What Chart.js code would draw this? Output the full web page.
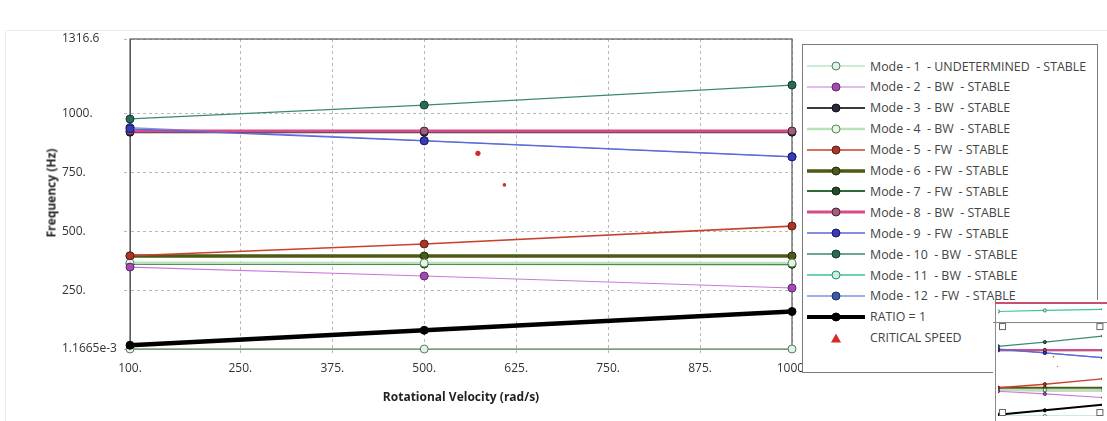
<!DOCTYPE html>
<html><head><meta charset="utf-8">
<script src="https://cdn.jsdelivr.net/npm/chart.js@4.4.1/dist/chart.umd.min.js"></script>
<style>
html,body{margin:0;padding:0;background:#fff;}
body{width:1107px;height:421px;position:relative;overflow:hidden;font-family:"Open Sans",sans-serif;}
#frame{position:absolute;left:5px;top:30px;width:1200px;height:500px;border:1px solid #ededed;}
#main{position:absolute;left:0;top:0;}
#ytitle{position:absolute;left:51px;top:193px;transform:translate(-50%,-50%) rotate(-90deg);font-weight:bold;font-size:12px;color:#222;white-space:nowrap;}
#xtitle{position:absolute;left:461px;top:396px;transform:translate(-50%,-50%);font-weight:bold;font-size:12px;color:#222;white-space:nowrap;}
#legend{position:absolute;left:802px;top:44px;width:294px;height:327px;border:1px solid #7a7a7a;background:#fff;}
.row{position:absolute;left:4px;height:16px;display:flex;align-items:center;font-size:12.4px;color:#444;white-space:pre;}
.row svg{margin-right:5px;}
#insetWrap{position:absolute;left:993px;top:300px;width:114px;height:121px;background:#fff;}
#inset{position:absolute;left:0;top:0;}
</style>
</head><body>
<div id="frame"></div>
<canvas id="main" width="1107" height="421"></canvas>
<div id="ytitle">Frequency (Hz)</div>
<div id="xtitle">Rotational Velocity (rad/s)</div>
<div id="legend"></div>
<div id="insetWrap"><canvas id="inset" width="114" height="121"></canvas></div>
<script>
// ---------- data ----------
const speeds = [100, 500, 1000];
const mode1  = [0, 0, 0];
const mode2  = [348, 310, 259];
const mode3  = [921, 921, 921];
const mode4  = [366, 365, 365];
const mode5  = [396, 446, 522];
const mode6  = [395, 395, 395];
const mode7  = [362, 361, 360];
const mode8  = [926, 926, 926];
const mode9  = [935, 884, 816];
const mode10 = [977, 1036, 1121];
const mode11 = [1465, 1480, 1495];
const mode12 = [940, 885, 817];
const ratio1 = [15.9, 79.6, 159.2];
const critSpeedX = [573, 609];
const critSpeedY = [831, 697];

const seriesNames = [
  'Mode - 1  - UNDETERMINED  - STABLE','Mode - 2  - BW  - STABLE','Mode - 3  - BW  - STABLE',
  'Mode - 4  - BW  - STABLE','Mode - 5  - FW  - STABLE','Mode - 6  - FW  - STABLE',
  'Mode - 7  - FW  - STABLE','Mode - 8  - BW  - STABLE','Mode - 9  - FW  - STABLE',
  'Mode - 10  - BW  - STABLE','Mode - 11  - BW  - STABLE','Mode - 12  - FW  - STABLE','RATIO = 1'];
const critName = 'CRITICAL SPEED';
const seriesValues = [mode1,mode2,mode3,mode4,mode5,mode6,mode7,mode8,mode9,mode10,mode11,mode12,ratio1];

const xTickValues = [100, 250, 375, 500, 625, 750, 875, 1000];
const xTickLabels = ['100.','250.','375.','500.','625.','750.','875.','1000.'];
const yTickValues = [0.0011665, 250, 500, 750, 1000, 1316.6];
const yTickLabels = ['1.1665e-3','250.','500.','750.','1000.','1316.6'];
const yMin = 0.0011665, yMax = 1316.6, xMin = 100, xMax = 1000;

// ---------- styles ----------
const styles = [
 {line:'#9bd9aa', fill:'#e4f4e4', edge:'#527f60', w:1.2, order:12},
 {line:'#c97ad8', fill:'#a04cb2', edge:'#5e2470', w:1.2, order:2},
 {line:'#3a3a3a', fill:'#2a2a38', edge:'#111111', w:2,   order:9},
 {line:'#b9e2b9', fill:'#e6f5e6', edge:'#5a8a5a', w:2.5, order:4},
 {line:'#c9412d', fill:'#a9352a', edge:'#5e1a10', w:1.6, order:3},
 {line:'#4b5a14', fill:'#4a5a1a', edge:'#202c08', w:3.5, order:5},
 {line:'#2b6b36', fill:'#244a2a', edge:'#102a14', w:2,   order:6},
 {line:'#d44d88', fill:'#9e5f7e', edge:'#4e1c3a', w:3,   order:8},
 {line:'#5a68d8', fill:'#3a3ab8', edge:'#181870', w:1.3, order:7},
 {line:'#3a8a72', fill:'#2a6a5a', edge:'#123a30', w:1.3, order:7},
 {line:'#3cc49a', fill:'#c8f0e0', edge:'#2a8a6a', w:1.3, order:7},
 {line:'#8094e6', fill:'#3a5aa8', edge:'#1a2a60', w:1.3, order:10},
 {line:'#000000', fill:'#000000', edge:'#000000', w:4.5, order:11}
];
const critColor = '#d42a2a';
const tickFont = {family:'"Open Sans", sans-serif', size:12};
const tickColor = '#333';

function buildDatasets(pr, lw, noClip){
  const ds = seriesValues.map((vals, i) => ({
    label: seriesNames[i],
    data: speeds.map((s, j) => ({x: s, y: vals[j]})),
    borderColor: styles[i].line,
    borderWidth: lw ? Math.min(lw * styles[i].w, 2) : styles[i].w,
    pointBackgroundColor: styles[i].fill,
    pointBorderColor: styles[i].edge,
    pointBorderWidth: 1,
    pointRadius: pr,
    tension: 0,
    order: styles[i].order,
    clip: (noClip && i !== 10) ? false : undefined
  }));
  ds.push({
    label: critName,
    data: critSpeedX.map((x, j) => ({x, y: critSpeedY[j]})),
    showLine: false,
    pointRadius: lw ? [0.8, 0.6] : [2.6, 1.8],
    pointBackgroundColor: critColor,
    pointBorderWidth: 0,
    order: 0
  });
  return ds;
}

const boxPlugin = {
  id: 'box',
  beforeDatasetsDraw(chart){
    const {ctx, chartArea: a} = chart;
    ctx.save();
    ctx.strokeStyle = '#5a5a5a'; ctx.lineWidth = 1.2;
    ctx.strokeRect(a.left, a.top, a.right - a.left, a.bottom - a.top);
    ctx.restore();
  }
};

new Chart(document.getElementById('main'), {
  type: 'line',
  data: {datasets: buildDatasets(4, 0, true)},
  options: {
    responsive: false, animation: false, devicePixelRatio: 1,
    layout: {padding: {left: 62, top: 39, right: 315, bottom: 0}},
    plugins: {legend: {display: false}, tooltip: {enabled: false}},
    scales: {
      x: {
        type: 'linear', min: xMin, max: xMax,
        afterBuildTicks: s => { s.ticks = xTickValues.map(v => ({value: v})); },
        afterFit: s => { s.height = 72; },
        ticks: {callback: (v, i) => xTickLabels[i], font: tickFont, color: tickColor, padding: 6, maxRotation: 0, autoSkip: false},
        grid: {color: '#b8b8b8', lineWidth: 1, tickLength: 6, tickBorderDash: [3, 3]},
        border: {display: true, color: '#5a5a5a', width: 1, dash: [3, 3]}
      },
      y: {
        type: 'linear', min: yMin, max: yMax,
        afterBuildTicks: s => { s.ticks = yTickValues.map(v => ({value: v})); },
        afterFit: s => { s.width = 68; },
        ticks: {callback: (v, i) => yTickLabels[i], font: tickFont, color: tickColor, crossAlign: 'far', autoSkip: false},
        grid: {color: '#b8b8b8', lineWidth: 1, tickLength: 6, tickBorderDash: [3, 3]},
        border: {display: true, color: '#5a5a5a', width: 1, dash: [3, 3]}
      }
    }
  },
  plugins: [boxPlugin]
});

// ---------- legend ----------
const legend = document.getElementById('legend');
function sampleSvg(st){
  const w = Math.min(st.w, 4);
  return `<svg width="58" height="12" viewBox="0 0 58 12"><line x1="0" y1="6" x2="58" y2="6" stroke="${st.line}" stroke-width="${w}"/>`+
         `<circle cx="29" cy="6" r="4" fill="${st.fill}" stroke="${st.edge}" stroke-width="1"/></svg>`;
}
seriesNames.forEach((name, i) => {
  const r = document.createElement('div');
  r.className = 'row';
  r.style.top = (13 + 20.9 * i) + 'px';
  r.innerHTML = sampleSvg(styles[i]) + '<span>' + name + '</span>';
  legend.appendChild(r);
});
{
  const r = document.createElement('div');
  r.className = 'row';
  r.style.top = (13 + 20.9 * 13) + 'px';
  r.innerHTML = `<svg width="58" height="12" viewBox="0 0 58 12"><polygon points="29,1.5 34,10.5 24,10.5" fill="${critColor}"/></svg><span>${critName}</span>`;
  legend.appendChild(r);
}

// ---------- inset overview ----------
const insetView = {x0: 100, x1: 1000, y0: 0, y1: 1316.6};
const insetPlugin = {
  id: 'insetBox',
  afterDatasetsDraw(chart){
    const {ctx, scales: {x, y}} = chart;
    const l = x.getPixelForValue(insetView.x0), r = x.getPixelForValue(insetView.x1);
    const t = y.getPixelForValue(insetView.y1), b = y.getPixelForValue(insetView.y0);
    ctx.save();
    ctx.strokeStyle = '#808080'; ctx.lineWidth = 1;
    ctx.beginPath();
    ctx.moveTo(0, t + 0.5); ctx.lineTo(chart.width, t + 0.5);
    ctx.stroke();
    ctx.strokeStyle = '#666';
    const sq = 6;
    [[l + 1, t + 1], [r - sq - 1, t + 1], [l + 1, b - sq - 1], [r - sq - 1, b - sq - 1]].forEach(([px, py]) => {
      ctx.fillStyle = '#fff';
      ctx.fillRect(px, py, sq, sq);
      ctx.strokeRect(px + 0.5, py + 0.5, sq, sq);
    });
    ctx.strokeStyle = '#8a8a8a';
    ctx.beginPath(); ctx.moveTo(2.5, 0); ctx.lineTo(2.5, chart.height); ctx.stroke();
    ctx.strokeStyle = '#c8506e'; ctx.lineWidth = 2;
    ctx.beginPath(); ctx.moveTo(2, 3); ctx.lineTo(chart.width, 3); ctx.stroke();
    ctx.restore();
  }
};
new Chart(document.getElementById('inset'), {
  type: 'line',
  data: {datasets: buildDatasets(1.6, 0.9, false)},
  options: {
    responsive: false, animation: false, devicePixelRatio: 1,
    layout: {padding: {left: 3, top: 0, right: 0, bottom: 4}},
    plugins: {legend: {display: false}, tooltip: {enabled: false}},
    scales: {
      x: {type: 'linear', min: 100, max: 988, display: false},
      y: {type: 'linear', min: 0, max: 1556, display: false}
    }
  },
  plugins: [insetPlugin]
});
</script>
</body></html>
